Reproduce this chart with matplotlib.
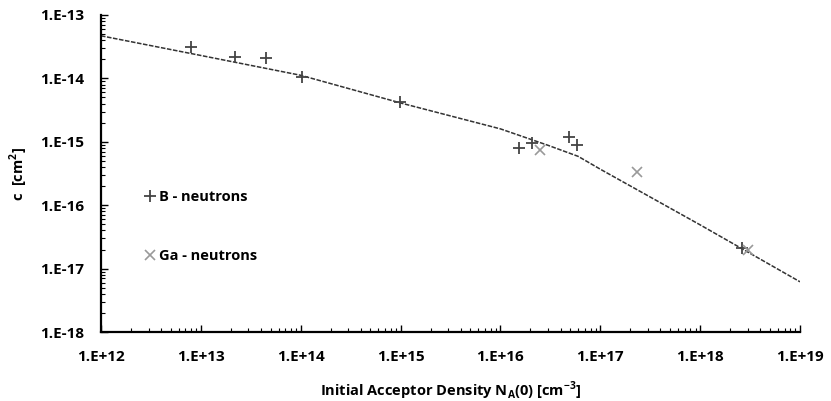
import matplotlib.pyplot as plt
import numpy as np

# Curva del modelo
linea_na = [1e12, 1e13, 1e14, 1e15, 1e16, 3e16, 6e16, 1e17, 1e18, 1e19]
linea_c = [4.7e-14, 2.3e-14, 1.12e-14, 4.1e-15, 1.6e-15, 8.8e-16, 5.9e-16, 3.7e-16, 4.9e-17, 6.2e-18]

# Mediciones B - neutrones
b_na = [8.0e12, 2.2e13, 4.5e13, 1.02e14, 9.8e14, 1.55e16, 2.05e16, 4.9e16, 5.8e16, 2.6e18]
b_c = [3.1e-14, 2.2e-14, 2.1e-14, 1.05e-14, 4.3e-15, 7.9e-16, 9.5e-16, 1.2e-15, 8.9e-16, 2.1e-17]

# Mediciones Ga - neutrones
ga_na = [2.5e16, 2.35e17, 3.0e18]
ga_c = [7.4e-16, 3.3e-16, 1.95e-17]

plt.rcParams['font.family'] = ['Open Sans', 'DejaVu Sans']

fig = plt.figure(figsize=(8.31, 4.01), dpi=100)
ax = fig.add_axes([0.1215, 0.172, 0.8412, 0.7906])

ax.plot(linea_na, linea_c, color='#333333', linewidth=1.1, linestyle=(0, (3, 1)))
ax.plot(b_na, b_c, linestyle='none', marker='+', markersize=9, markeredgewidth=1.3,
        color='#444444', label='B - neutrons')
ax.plot(ga_na, ga_c, linestyle='none', marker='x', markersize=7, markeredgewidth=1.2,
        color='#999999', label='Ga - neutrons')

ax.set_xscale('log')
ax.set_yscale('log')
ax.set_xlim(1e12, 1e19)
ax.set_ylim(1e-18, 1e-13)

xt = [10.0 ** k for k in range(12, 20)]
yt = [10.0 ** k for k in range(-18, -12)]
ax.set_xticks(xt)
ax.set_xticklabels(['1.E+%d' % k for k in range(12, 20)])
ax.set_yticks(yt)
ax.set_yticklabels(['1.E%d' % k for k in range(-18, -12)])

for lab in ax.get_xticklabels() + ax.get_yticklabels():
    lab.set_fontweight('bold')
    lab.set_fontsize(11)

ax.tick_params(which='major', direction='in', length=5, width=1)
ax.tick_params(which='minor', direction='in', length=3, width=0.8)
ax.tick_params(axis='x', pad=13)
ax.tick_params(axis='y', pad=12)

for s in ['top', 'right']:
    ax.spines[s].set_visible(False)
for s in ['left', 'bottom']:
    ax.spines[s].set_linewidth(1.6)

ax.set_xlabel('Initial Acceptor Density N$_\\mathregular{A}$(0) [cm$^\\mathregular{-3}$]',
              fontsize=10.5, fontweight='bold', labelpad=11)
ax.set_ylabel('c  [cm$^\\mathregular{2}$]', fontsize=10.5, fontweight='bold', labelpad=7)

leg = ax.legend(loc='upper left', bbox_to_anchor=(0.045, 0.49), frameon=False,
                handlelength=0.6, handletextpad=0.3, labelspacing=3.1,
                prop={'weight': 'bold', 'size': 10.5})

fig.savefig('out.png', dpi=100)
